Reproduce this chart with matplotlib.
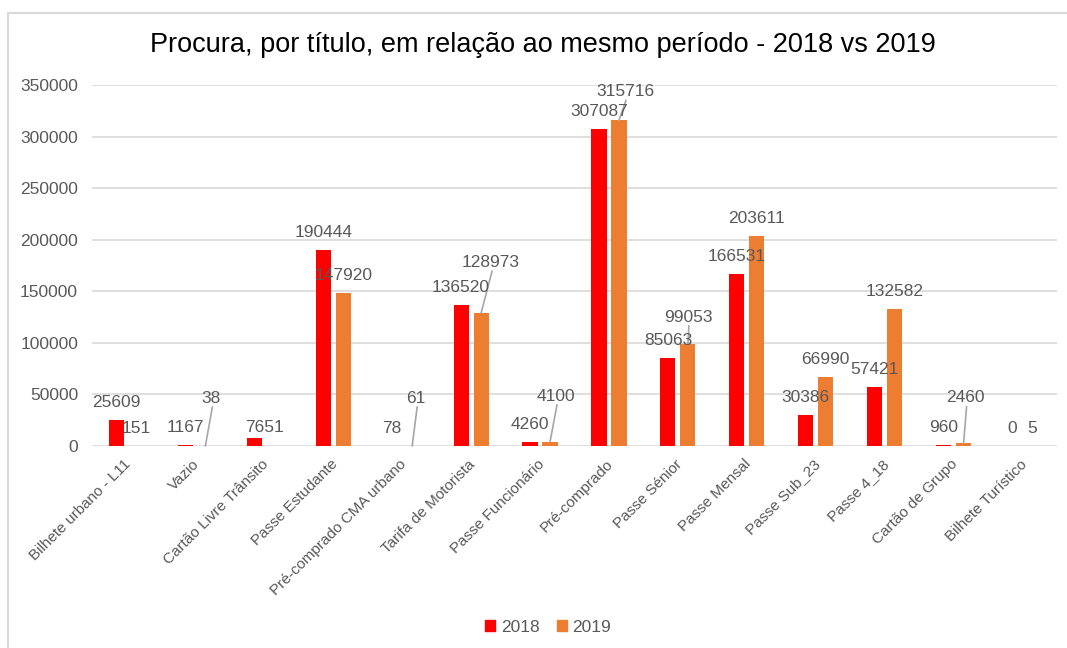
import numpy as np
import matplotlib.pyplot as plt
from matplotlib.lines import Line2D
from matplotlib.transforms import ScaledTranslation

plt.rcParams.update({
    "font.family": "Liberation Sans",
})

# data
categories = ["Bilhete urbano - L11", "Vazio", "Cartão Livre Trânsito", "Passe Estudante",
              "Pré-comprado CMA urbano", "Tarifa de Motorista", "Passe Funcionário",
              "Pré-comprado", "Passe Sénior", "Passe Mensal", "Passe Sub_23",
              "Passe 4_18", "Cartão de Grupo", "Bilhete Turístico"]
v2018 = [25609, 1167, 7651, 190444, 78, 136520, 4260, 307087, 85063, 166531, 30386, 57421, 960, 0]
v2019 = [151, 38, np.nan, 147920, 61, 128973, 4100, 315716, 99053, 203611, 66990, 132582, 2460, 5]

# manual label nudges (pixels: dx right, dy up); a leader line is drawn when moved up
off2018 = [(0, 0)] * 14
off2018[2] = (10, -7)
off2019 = [(0, 0)] * 14
off2019[1] = (6, 30)
off2019[4] = (4, 30)
off2019[5] = (10, 33)
off2019[6] = (6, 28)
off2019[7] = (6, 11)
off2019[8] = (0, 9)
off2019[12] = (2, 28)

RED = "#FF0000"
ORANGE = "#ED7D31"
GREY = "#595959"

fig = plt.figure(figsize=(10.67, 6.48), dpi=100)
ax = fig.add_axes([92 / 1067, 1 - 446 / 648, 965 / 1067, 361 / 648])

x = np.arange(len(categories))
w = 0.22
d = 0.145
ax.bar(x - d, v2018, w, color=RED, zorder=2)
ax.bar(x + d, v2019, w, color=ORANGE, zorder=2)

ax.set_xlim(-0.5, len(categories) - 0.5)
ax.set_ylim(0, 350000)
ax.set_yticks(np.arange(0, 350001, 50000))
ax.grid(axis="y", color="#D9D9D9", lw=1.2, zorder=0)
ax.set_axisbelow(True)
for s in ax.spines.values():
    s.set_visible(False)
ax.tick_params(axis="y", length=0, pad=10, labelsize=12.5, labelcolor=GREY)
ax.tick_params(axis="x", length=0, pad=4, labelsize=11, labelcolor=GREY)
ax.set_xticks(x)
ax.set_xticklabels(categories, rotation=45, ha="right", va="top", rotation_mode="anchor")
for lab in ax.get_xticklabels():
    lab.set_transform(lab.get_transform() + ScaledTranslation(-2 / 72, -4 / 72, fig.dpi_scale_trans))

# data labels (default ~17.5 px above bar top)
px = 72 / fig.dpi
for vals, offs, dx0 in [(v2018, off2018, -d), (v2019, off2019, d)]:
    for i, (v, (ox, oy)) in enumerate(zip(vals, offs)):
        if np.isnan(v):
            continue
        ax.annotate(str(int(v)), (i + dx0, v), xytext=(ox * px, (17.5 + oy) * px),
                    textcoords="offset points", ha="center", va="center",
                    fontsize=12.5, color=GREY, zorder=4)
        if oy > 5:
            ax.annotate("", (i + dx0, v), xytext=((ox + 1) * px, (oy + 9) * px),
                        textcoords="offset points",
                        arrowprops=dict(arrowstyle="-", color="#A6A6A6", lw=1.2,
                                        shrinkA=0, shrinkB=0), zorder=3)

fig.suptitle("Procura, por título, em relação ao mesmo período - 2018 vs 2019",
             x=0.509, y=1 - 45 / 648, va="center", fontsize=19.5, color="black")

handles = [plt.Rectangle((0, 0), 1, 1, color=RED), plt.Rectangle((0, 0), 1, 1, color=ORANGE)]
fig.legend(handles, ["2018", "2019"], loc="center", bbox_to_anchor=(548 / 1067, 1 - 627 / 648),
           ncol=2, frameon=False, fontsize=12.5, labelcolor=GREY, handlelength=0.6,
           handleheight=0.6, handletextpad=0.3, columnspacing=1.0)

# chart area border (top and left edges inside the crop)
fig.add_artist(Line2D([8 / 1067, 8 / 1067], [0, 1 - 13 / 648], color="#D9D9D9", lw=1.5))
fig.add_artist(Line2D([8 / 1067, 1], [1 - 13 / 648, 1 - 13 / 648], color="#D9D9D9", lw=1.5))

fig.savefig("out.png", dpi=100)
